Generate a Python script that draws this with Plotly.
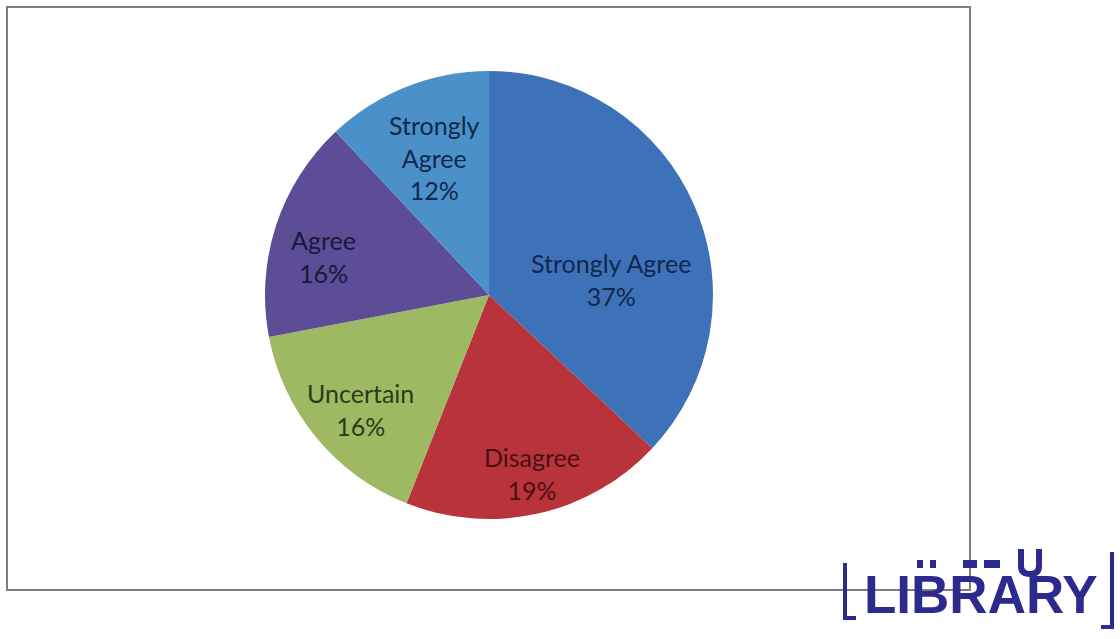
import math
import plotly.graph_objects as go

# Survey response shares, clockwise from 12 o'clock
categories = ["Strongly Agree", "Disagree", "Uncertain", "Agree", "Strongly Agree"]
shares = [37, 19, 16, 16, 12]
display_names = ["Strongly Agree", "Disagree", "Uncertain", "Agree", "Strongly<br>Agree"]

slice_colors = ["#3d72b9", "#b9333a", "#9dba63", "#5c4d96", "#4b90c8"]
label_colors = ["#10284f", "#4a1012", "#2b3a16", "#161a3c", "#10284f"]
# label placement: fraction of radius and angular nudge (degrees) per slice
label_radius = [0.55, 0.82, 0.77, 0.76, 0.66]
label_nudge = [16, -1, -2, -5, 0]

W, H = 1120, 639
CX, CY, R = 489, 295, 224  # pie centre and radius in pixels


def px(x):
    return x / W


def py(y):
    return (H - y) / H


fig = go.Figure(
    go.Pie(
        labels=[f"{c} ({i})" for i, c in enumerate(categories)],
        values=shares,
        textinfo="none",
        sort=False,
        direction="clockwise",
        rotation=0,
        marker=dict(colors=slice_colors, line=dict(width=0)),
        hoverinfo="skip",
        showlegend=False,
        domain=dict(x=[px(CX - R), px(CX + R)], y=[py(CY + R), py(CY - R)]),
    )
)

# Slice labels placed along each slice's mid-angle
total = sum(shares)
cum = 0
for i, s in enumerate(shares):
    theta = math.radians((cum + s / 2) / total * 360 + label_nudge[i])
    cum += s
    r = label_radius[i] * R
    lx = CX + r * math.sin(theta)
    ly = CY - r * math.cos(theta)
    fig.add_annotation(
        x=px(lx), y=py(ly), xref="paper", yref="paper",
        xanchor="center", yanchor="middle", showarrow=False,
        text=f"{display_names[i]}<br>{s}%",
        font=dict(family="Lato", size=25, color=label_colors[i]),
    )

# Chart frame
fig.add_shape(
    type="rect", xref="paper", yref="paper",
    x0=px(7), x1=px(970), y0=py(590), y1=py(7),
    line=dict(color="#7d7d7d", width=2), fillcolor="rgba(0,0,0,0)",
)

# Library stamp in the lower right corner
stamp = "#2d2a8e"
fig.add_annotation(
    x=px(981), y=py(594), xref="paper", yref="paper",
    xanchor="center", yanchor="middle",
    text="<b>LIBRARY</b>", showarrow=False,
    font=dict(family="Liberation Sans", size=53, color=stamp),
)
# partly printed top line of the stamp
fig.add_shape(
    type="path", xref="paper", yref="paper",
    path=(f"M {px(1021)},{py(549)} L {px(1021)},{py(566)} "
          f"Q {px(1021)},{py(574)} {px(1030)},{py(574)} "
          f"Q {px(1039)},{py(574)} {px(1039)},{py(566)} L {px(1039)},{py(549)}"),
    line=dict(color=stamp, width=6),
)
for x0, x1 in [(917, 923), (930, 936), (963, 977), (984, 1000)]:
    fig.add_shape(
        type="rect", xref="paper", yref="paper",
        x0=px(x0), x1=px(x1), y0=py(568), y1=py(560),
        line=dict(width=0), fillcolor=stamp,
    )
bracket_paths = [
    (845, 563, 618, 856),   # left bracket: x, top, bottom, foot end
    (1112, 552, 627, 1101),  # right bracket
]
for x, top, bottom, foot in bracket_paths:
    fig.add_shape(
        type="path", xref="paper", yref="paper",
        path=f"M {px(x)},{py(top)} L {px(x)},{py(bottom)} L {px(foot)},{py(bottom)}",
        line=dict(color=stamp, width=4),
    )

fig.update_layout(
    width=W, height=H,
    margin=dict(l=0, r=0, t=0, b=0),
    paper_bgcolor="white", plot_bgcolor="white",
)

fig.write_html("out.html")
